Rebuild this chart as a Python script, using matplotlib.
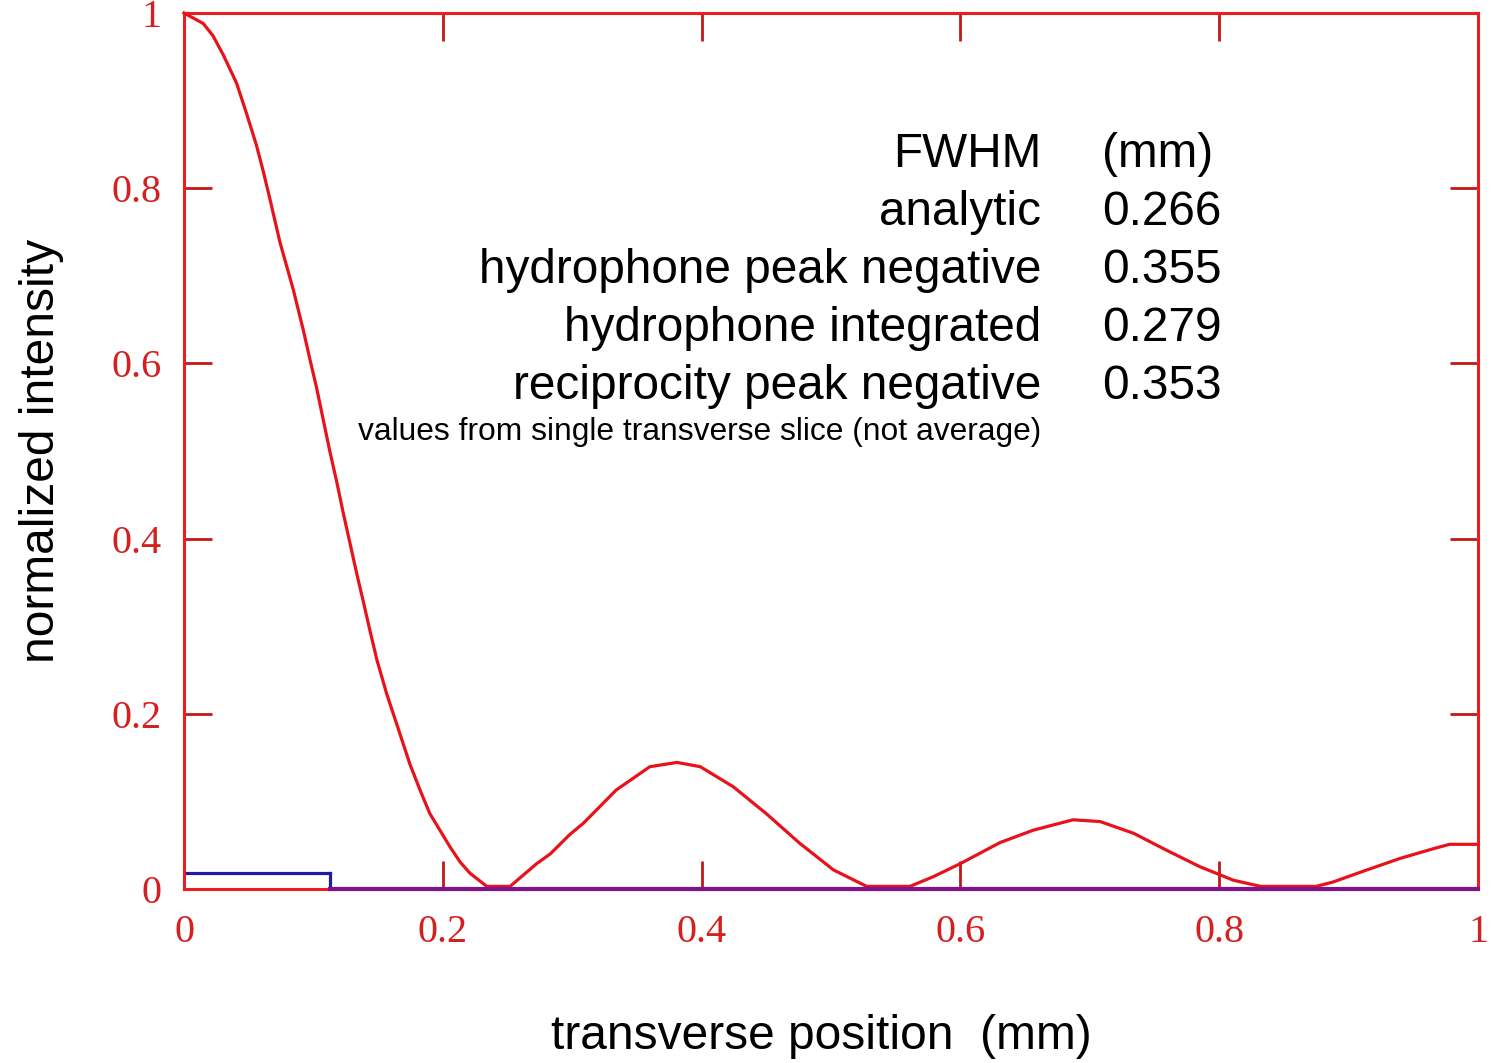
import numpy as np
import matplotlib
matplotlib.use("Agg")
import matplotlib.pyplot as plt

# ---- data ----
pos = [0.0, 0.0149, 0.0224, 0.0304, 0.0406, 0.0484, 0.056, 0.0613, 0.0665, 0.0742,
       0.0845, 0.0922, 0.0974, 0.1025, 0.1077, 0.1128, 0.118, 0.1231, 0.1283,
       0.1335, 0.1386, 0.1437, 0.149, 0.1566, 0.164, 0.1747, 0.1824, 0.190, 0.2056,
       0.2133, 0.221, 0.234, 0.252,
       0.2726, 0.283, 0.298, 0.3086, 0.334, 0.360, 0.381, 0.399, 0.4245, 0.450,
       0.476, 0.502, 0.5276, 0.561, 0.579, 0.600, 0.6306, 0.656, 0.687, 0.708,
       0.734, 0.759, 0.785, 0.811, 0.832, 0.875, 0.888, 0.914, 0.940, 0.9655,
       0.978, 1.0]
intensity = [1.0, 0.988, 0.974, 0.952, 0.92, 0.885, 0.849, 0.819, 0.787, 0.738,
             0.684, 0.638, 0.604, 0.572, 0.535, 0.499, 0.465, 0.429, 0.3946,
             0.36, 0.328, 0.295, 0.262, 0.223, 0.19, 0.142, 0.113, 0.086, 0.048,
             0.031, 0.018, 0.003, 0.003,
             0.029, 0.040, 0.062, 0.075, 0.113, 0.1396, 0.1445, 0.1396, 0.1167, 0.086,
             0.052, 0.0217, 0.003, 0.003, 0.014, 0.029, 0.053, 0.067, 0.079, 0.077,
             0.0635, 0.0445, 0.0255, 0.010, 0.003, 0.003, 0.008, 0.0217, 0.035, 0.046,
             0.051, 0.051]

step_x = [0.002, 0.113, 0.113, 1.0]
step_y = [0.018, 0.018, 0.0, 0.0]

xticks = [0, 0.2, 0.4, 0.6, 0.8, 1]
xticklabels = ["0", "0.2", "0.4", "0.6", "0.8", "1"]
yticks = [0, 0.2, 0.4, 0.6, 0.8, 1]
yticklabels = ["0", "0.2", "0.4", "0.6", "0.8", "1"]

row_names = ["FWHM", "analytic", "hydrophone peak negative",
             "hydrophone integrated", "reciprocity peak negative"]
row_values = ["(mm)", "0.266", "0.355", "0.279", "0.353"]
note = "values from single transverse slice (not average)"

xlabel = "transverse position  (mm)"
ylabel = "normalized intensity"

# ---- figure ----
RED = "#ee1c1c"
TICK = "#c01818"
LABELRED = "#d42020"

fig = plt.figure(figsize=(14.94, 10.63), dpi=100)
ax = fig.add_axes([184/1494, 1 - 889/1063, (1478-184)/1494, (889-13)/1063])

ax.plot(pos, intensity, color="#e8121a", lw=2.3, zorder=3, clip_on=False,
        solid_joinstyle="round")

sx = np.array(step_x)
sy = np.array(step_y)
ax.plot(sx, np.where(sy > 0, sy, np.nan), color="#1c1ca8", lw=2.3, zorder=4, clip_on=False)
ax.plot(sx[1:3], sy[1:3], color="#1c1ca8", lw=2.3, zorder=4, clip_on=False)
ax.plot(sx[2:], sy[2:], color="#80138a", lw=3.0, zorder=5, clip_on=False)

ax.set_xlim(0, 1)
ax.set_ylim(0, 1)

for s in ax.spines.values():
    s.set_color(RED)
    s.set_linewidth(2.2)

ax.set_xticks(xticks)
ax.set_xticklabels(xticklabels)
ax.set_yticks(yticks)
ax.set_yticklabels(yticklabels)
ax.tick_params(axis="both", direction="in", length=20, width=2.0, color=TICK,
               top=True, right=True, labelcolor=LABELRED, labelsize=29)
ax.tick_params(axis="x", pad=18)
ax.tick_params(axis="y", pad=16)
for lab in ax.get_xticklabels() + ax.get_yticklabels():
    lab.set_family("Liberation Serif")

ax.set_xlabel(xlabel, fontsize=34.5, family="Liberation Sans")
ax.xaxis.set_label_coords(0.4927, -0.143)
ax.xaxis.label.set_va("top")
ax.set_ylabel(ylabel, fontsize=34.5, family="Liberation Sans", labelpad=34)

row_y = [0.824, 0.758, 0.692, 0.6256, 0.559]
for name, val, yy in zip(row_names, row_values, row_y):
    ax.text(0.6623, yy, name, ha="right", va="baseline", fontsize=34.4,
            family="Liberation Sans")
    ax.text(0.7094, yy, val, ha="left", va="baseline", fontsize=34.4,
            family="Liberation Sans")
ax.text(0.6623, 0.5126, note, ha="right", va="baseline", fontsize=22.9,
        family="Liberation Sans")

fig.savefig("out.png", dpi=100)
